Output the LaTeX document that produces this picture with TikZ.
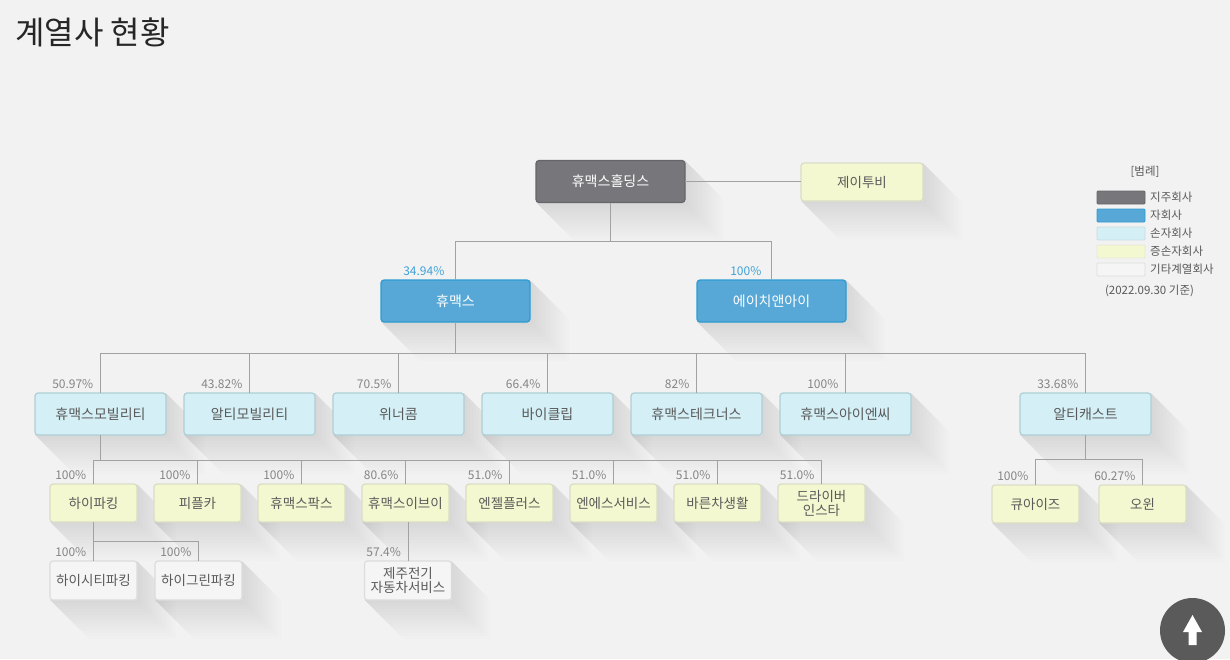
\documentclass[tikz,border=0pt]{standalone}
\usepackage{fontspec}
\setmainfont{Noto Sans CJK KR}
\usepackage{tikz}
\usetikzlibrary{calc,positioning}
\definecolor{pagegrey}{HTML}{F2F2F2}
\definecolor{linkgrey}{HTML}{A2A2A2}
\definecolor{holdfill}{HTML}{77777B}
\definecolor{holdline}{HTML}{66666A}
\definecolor{subfill}{HTML}{57A8D6}
\definecolor{subline}{HTML}{2C9BD3}
\definecolor{grandfill}{HTML}{D4EFF5}
\definecolor{grandline}{HTML}{AFCFD4}
\definecolor{greatfill}{HTML}{F4F8D0}
\definecolor{greatline}{HTML}{DADDC6}
\definecolor{otherfill}{HTML}{F5F5F5}
\definecolor{otherline}{HTML}{DCDCDC}
\definecolor{boxtext}{HTML}{5A5A5A}
\definecolor{pctgrey}{HTML}{858585}
\definecolor{pctblue}{HTML}{3EA2D8}
\definecolor{btngrey}{HTML}{5A5A5A}
\pgfdeclarelayer{back}
\pgfdeclarelayer{shade}
\pgfsetlayers{back,shade,main}
\tikzset{
  boxbase/.style={rounded corners=3pt,line width=1.2pt,align=center,
    inner sep=2pt,outer sep=0pt,text=boxtext,
    font=\fontsize{14}{15}\selectfont},
  holdbox/.style={boxbase,draw=holdline,fill=holdfill,text=white,
    minimum width=149pt,minimum height=42pt},
  subbox/.style={boxbase,draw=subline,fill=subfill,text=white,
    minimum width=149pt,minimum height=42pt},
  grandbox/.style={boxbase,draw=grandline,fill=grandfill,
    minimum width=131pt,minimum height=42pt},
  greatbox/.style={boxbase,draw=greatline,fill=greatfill,
    minimum width=87pt,minimum height=38pt,
    font=\fontsize{13.5}{14}\selectfont},
  otherbox/.style={boxbase,draw=otherline,fill=otherfill,
    minimum width=87pt,minimum height=39pt,
    font=\fontsize{13.5}{14.5}\selectfont},
  link/.style={draw=linkgrey,line width=1pt},
  pct/.style={font=\fontsize{12}{12}\selectfont,text=pctgrey,
    inner sep=0pt,anchor=base east},
  subpct/.style={pct,text=pctblue},
  legswatch/.style={rounded corners=1pt,line width=0.8pt,
    minimum width=48pt,minimum height=13pt,inner sep=0pt},
  legtext/.style={font=\fontsize{11.5}{12}\selectfont,text=boxtext,inner sep=1pt},
  titletext/.style={font=\fontsize{32}{34}\selectfont,text=black!85,inner sep=0pt}
}
% long flat shadow behind a box
\newcommand\longshadow[1]{%
  \begin{pgfonlayer}{shade}
    \foreach \len in {3,6,...,39}
      \fill[black,opacity=0.0075] (#1.north east) -- ++(\len,\len)
        -- ($(#1.south east)+(\len,\len)$) -- ($(#1.south west)+(\len,\len)$)
        -- (#1.south west) -- (#1.south east) -- cycle;
  \end{pgfonlayer}}

\begin{document}
\begin{tikzpicture}[x=1pt,y=-1pt,node distance=18pt]
  \begin{pgfonlayer}{back}
    \fill[pagegrey] (0,0) rectangle (1230,659);
  \end{pgfonlayer}
  \useasboundingbox (0,0) rectangle (1230,659);

  \node[titletext,anchor=west] (title) at (15,32) {계열사 현황};

  % holding and subsidiaries
  \node[holdbox] (hold) at (610.5,181.5) {휴맥스홀딩스};
  \node[greatbox,minimum width=122pt] (jtb) at (862,182) {제이투비};
  \node[subbox] (humax) at (455.5,301) {휴맥스};
  \node[subbox] (hni) at (771.5,301) {에이치앤아이};

  % grandchildren
  \node[grandbox] (mob) at (100.5,414) {휴맥스모빌리티};
  \node[grandbox,right=of mob] (rtmob) {알티모빌리티};
  \node[grandbox,right=of rtmob] (winner) {위너콤};
  \node[grandbox,right=of winner] (byclip) {바이클립};
  \node[grandbox,right=of byclip] (tech) {휴맥스테크너스};
  \node[grandbox,right=of tech] (inc) {휴맥스아이엔씨};
  \node[grandbox] (rtc) at (1085.5,414) {알티캐스트};

  % great-grandchildren
  \node[greatbox] (hipk) at (93.5,503) {하이파킹};
  \node[greatbox,right=17pt of hipk] (ppc) {피플카};
  \node[greatbox,right=17pt of ppc] (parks) {휴맥스팍스};
  \node[greatbox,right=17pt of parks] (hev) {휴맥스이브이};
  \node[greatbox,right=17pt of hev] (angel) {엔젤플러스};
  \node[greatbox,right=17pt of angel] (ns) {엔에스서비스};
  \node[greatbox,right=17pt of ns] (barun) {바른차생활};
  \node[greatbox,right=17pt of barun] (dins) {드라이버\\인스타};
  \node[greatbox] (qis) at (1035.5,504) {큐아이즈};
  \node[greatbox,right=20pt of qis] (owin) {오윈};

  % other affiliates
  \node[otherbox] (hcity) at (93.5,580.5) {하이시티파킹};
  \node[otherbox,right=18pt of hcity] (hgreen) {하이그린파킹};
  \node[otherbox] (jeju) at (408,580.5) {제주전기\\자동차서비스};

  \foreach \b in {hold,jtb,humax,hni,mob,rtmob,winner,byclip,tech,inc,rtc,
      hipk,ppc,parks,hev,angel,ns,barun,dins,qis,owin,hcity,hgreen,jeju}
    \longshadow{\b};

  % connectors
  \coordinate (bus2) at (0,241);
  \coordinate (bus3) at (0,353);
  \coordinate (bus4) at (0,460);
  \coordinate (bus5) at (0,541);
  \coordinate (busr) at (0,459);
  \draw[link] (hold.east) -- (hold.east -| jtb.west);
  \draw[link] (hold.south) -- (hold.south |- bus2);
  \draw[link] (humax.north |- bus2) -- (hni.north |- bus2);
  \foreach \c in {humax,hni}
    \draw[link] (\c.north) -- (\c.north |- bus2);
  \draw[link] (humax.south) -- (humax.south |- bus3);
  \draw[link] (mob.north |- bus3) -- (rtc.north |- bus3);
  \foreach \c in {mob,rtmob,winner,byclip,tech,inc,rtc}
    \draw[link] (\c.north) -- (\c.north |- bus3);
  \draw[link] (mob.south) -- (mob.south |- bus4);
  \draw[link] (hipk.north |- bus4) -- (dins.north |- bus4);
  \foreach \c in {hipk,ppc,parks,hev,angel,ns,barun,dins}
    \draw[link] (\c.north) -- (\c.north |- bus4);
  \draw[link] (hipk.south) -- (hipk.south |- bus5);
  \draw[link] (hcity.north |- bus5) -- (hgreen.north |- bus5);
  \foreach \c in {hcity,hgreen}
    \draw[link] (\c.north) -- (\c.north |- bus5);
  \draw[link] (jeju.north |- hev.south) -- (jeju.north);
  \draw[link] (rtc.south) -- (rtc.south |- busr);
  \draw[link] (qis.north |- busr) -- (owin.north |- busr);
  \foreach \c in {qis,owin}
    \draw[link] (\c.north) -- (\c.north |- busr);

  % shares
  \node[subpct] (p-humax) at ([xshift=-11pt,yshift=4.5pt]humax.north) {34.94\%};
  \node[subpct] (p-hni) at ([xshift=-10pt,yshift=4.5pt]hni.north) {100\%};
  \foreach \c/\p in {mob/50.97,rtmob/43.82,winner/70.5,byclip/66.4,tech/82,
      inc/100,rtc/33.68,hipk/100,ppc/100,parks/100,hev/80.6,angel/51.0,
      ns/51.0,barun/51.0,dins/51.0,qis/100,owin/60.27,hcity/100,hgreen/100,
      jeju/57.4}
    \node[pct] (p-\c) at ([xshift=-7pt,yshift=4.5pt]\c.north) {\p\%};

  % legend
  \node[legtext] (legtitle) at (1145,172) {[범례]};
  \node[legswatch,fill=holdfill,draw=holdline] (leg1) at (1121,197.5) {};
  \node[legswatch,fill=subfill,draw=subline] (leg2) at (1121,215.5) {};
  \node[legswatch,fill=grandfill,draw=grandline!70] (leg3) at (1121,233.5) {};
  \node[legswatch,fill=greatfill,draw=greatline!70] (leg4) at (1121,251.5) {};
  \node[legswatch,fill=otherfill,draw=otherline] (leg5) at (1121,269.5) {};
  \node[legtext,anchor=west] (legl1) at (1149,197.5) {지주회사};
  \node[legtext,anchor=west] (legl2) at (1149,215.5) {자회사};
  \node[legtext,anchor=west] (legl3) at (1149,233.5) {손자회사};
  \node[legtext,anchor=west] (legl4) at (1149,251.5) {증손자회사};
  \node[legtext,anchor=west] (legl5) at (1149,269.5) {기타계열회사};
  \node[legtext] (legdate) at (1149.5,291) {(2022.09.30 기준)};

  % back to top button
  \node[circle,fill=btngrey,minimum size=65pt,inner sep=0pt] (totop) at (1192.5,630.5) {};
  \fill[white,shift={(totop.center)}] (0,-15.5) -- (9.5,1.5) -- (4,1.5)
    -- (4,14.5) -- (-4,14.5) -- (-4,1.5) -- (-9.5,1.5) -- cycle;
\end{tikzpicture}
\end{document}
